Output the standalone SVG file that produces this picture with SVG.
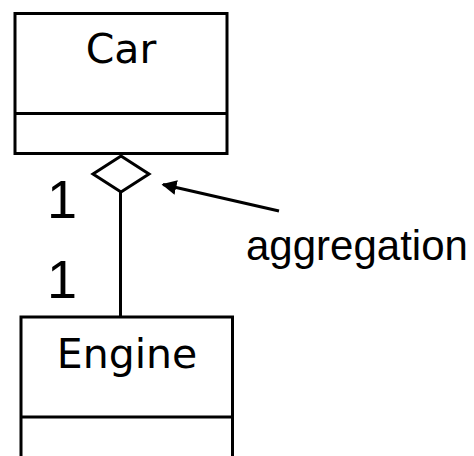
<svg xmlns="http://www.w3.org/2000/svg" width="474" height="456" viewBox="0 0 474 456">
<defs>
<style>
.box{fill:#fff;stroke:#000;stroke-width:3}
.cls{font-family:"DejaVu Sans",sans-serif;font-size:41px;fill:#000;text-anchor:middle}
.lbl{font-family:"Liberation Sans",Arial,sans-serif;fill:#000}
.ln{stroke:#000;stroke-width:3;fill:none}
</style>
<marker id="ah" markerWidth="5" markerHeight="5" refX="4.5" refY="2.5" orient="auto" markerUnits="strokeWidth">
<path d="M0,0 L5,2.5 L0,5 Z" fill="#000"/>
</marker>
</defs>
<rect width="474" height="456" fill="#fff"/>
<g id="car">
<rect class="box" x="15" y="13.5" width="212" height="140"/>
<line class="ln" x1="15" y1="113.5" x2="227" y2="113.5"/>
<text class="cls" x="121" y="63">Car</text>
</g>
<g id="engine">
<rect class="box" x="21" y="317" width="211.5" height="160"/>
<line class="ln" x1="21" y1="417" x2="232.5" y2="417"/>
<text class="cls" x="127" y="368">Engine</text>
</g>
<g id="connectors">
<line class="ln" x1="120.5" y1="192" x2="120.5" y2="317"/>
<polygon class="ln" points="121,156 149,174 121,192 93,174" fill="#fff"/>
<line class="ln" x1="279" y1="211" x2="163" y2="184.5" marker-end="url(#ah)"/>
</g>
<g id="labels">
<text class="lbl" x="47" y="218" font-size="54">1</text>
<text class="lbl" x="47" y="298" font-size="54">1</text>
<text class="lbl" x="246" y="260" font-size="42">aggregation</text>
</g>
</svg>
